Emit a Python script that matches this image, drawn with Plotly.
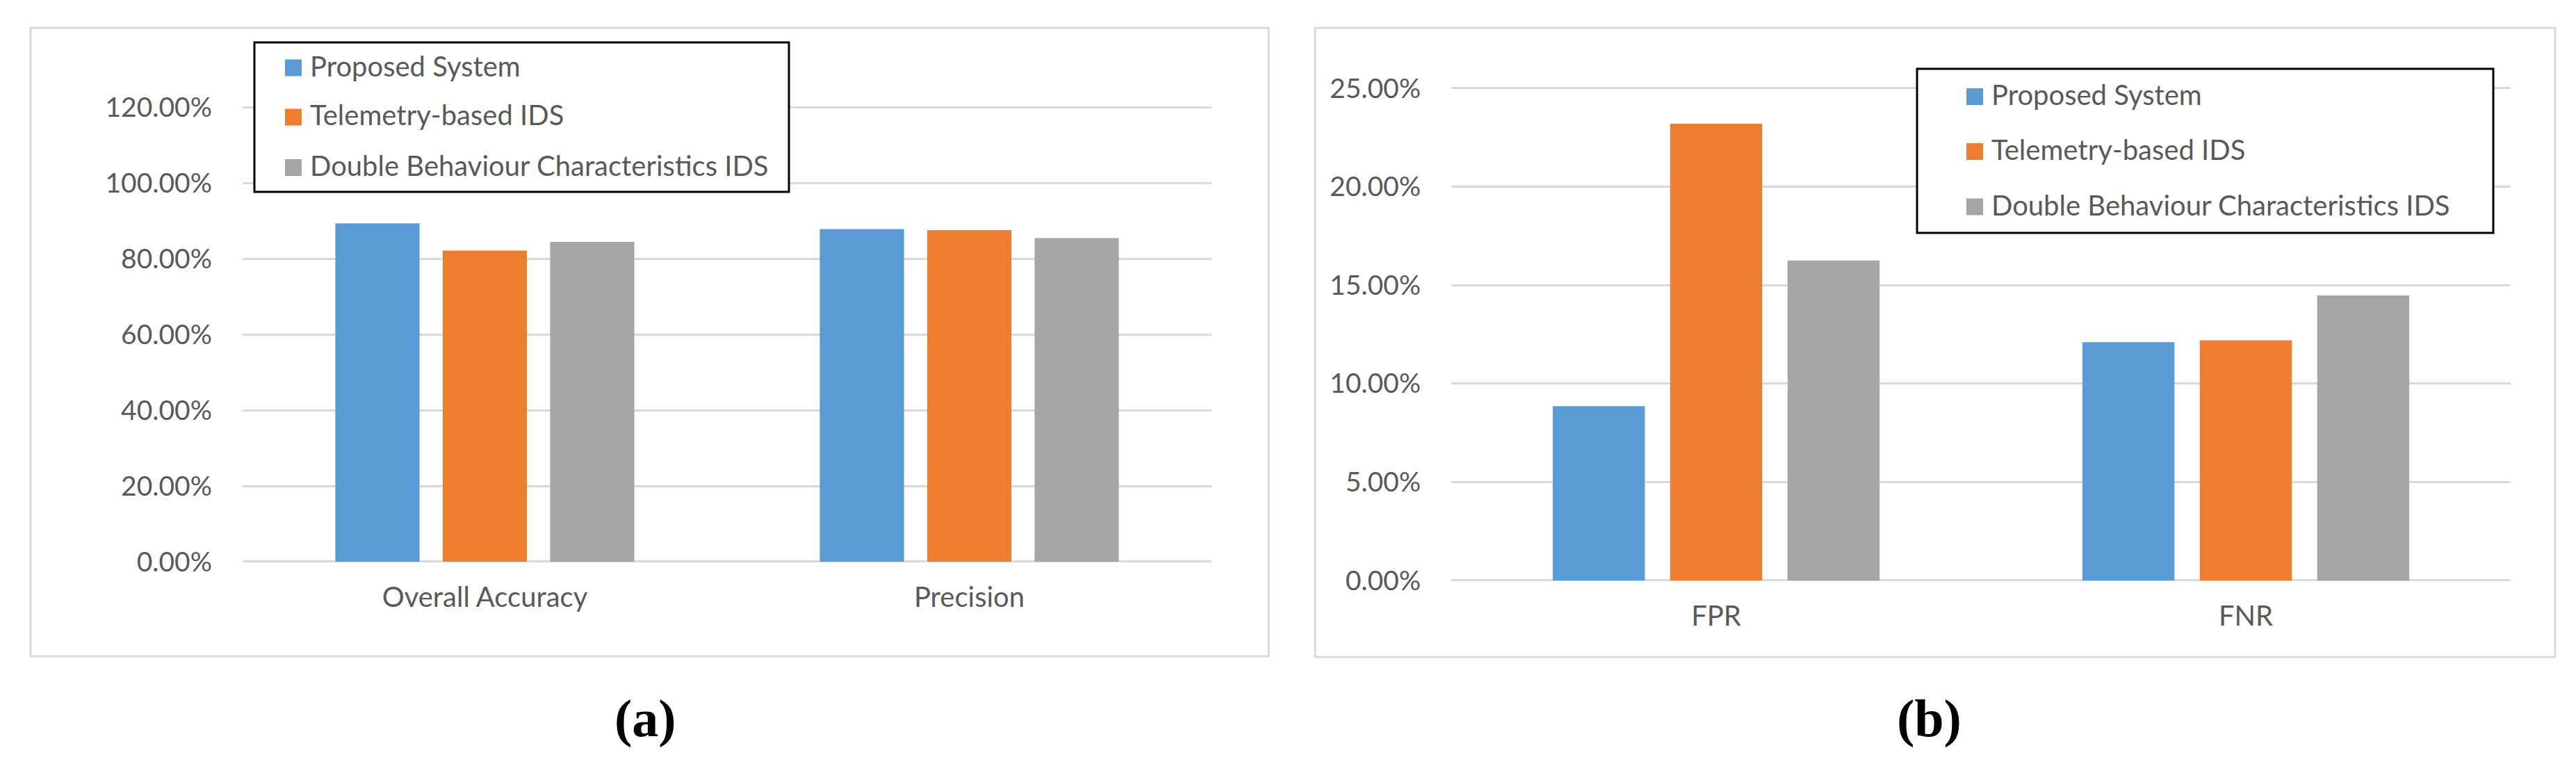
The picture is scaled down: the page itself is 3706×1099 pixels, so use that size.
import plotly.graph_objects as go

# ---------------- data ----------------
series_names = ["Proposed System", "Telemetry-based IDS", "Double Behaviour Characteristics IDS"]
series_colors = ["#5B9BD5", "#ED7D31", "#A5A5A5"]

cats_a = ["Overall Accuracy", "Precision"]
proposed_a = [89.4, 87.9]
telemetry_a = [82.2, 87.6]
double_a = [84.5, 85.5]

cats_b = ["FPR", "FNR"]
proposed_b = [8.85, 12.1]
telemetry_b = [23.2, 12.2]
double_b = [16.25, 14.48]

captions = ["(a)", "(b)"]

W, H = 3706, 1099
def px(x): return x / W
def py(y): return 1 - y / H

FONT = "Lato"
TXT = "#595959"
GRID = "#D9D9D9"

fig = go.Figure()
vals_a = [proposed_a, telemetry_a, double_a]
vals_b = [proposed_b, telemetry_b, double_b]
for name, col, va, vb in zip(series_names, series_colors, vals_a, vals_b):
    fig.add_trace(go.Bar(x=cats_a, y=va, name=name, marker=dict(color=col, line=dict(width=0)),
                         xaxis="x", yaxis="y", showlegend=False))
    fig.add_trace(go.Bar(x=cats_b, y=vb, name=name, marker=dict(color=col, line=dict(width=0)),
                         xaxis="x2", yaxis="y2", showlegend=False))

tickfont = dict(family=FONT, size=39, color=TXT)

def yax(rng, dtick, dom, anchor):
    return dict(domain=dom, range=rng, dtick=dtick, tick0=0, tickformat=".2f", ticksuffix="%",
                showgrid=True, gridcolor=GRID, gridwidth=3, zeroline=True, zerolinecolor=GRID,
                zerolinewidth=3, showline=False, ticks="", ticklabelstandoff=43, tickfont=tickfont,
                anchor=anchor, fixedrange=True, automargin=False)

def xax(dom, anchor):
    return dict(domain=dom, showgrid=False, zeroline=False, showline=False, ticks="",
                tickfont=dict(family=FONT, size=40, color=TXT), ticklabelstandoff=24,
                anchor=anchor, fixedrange=True, automargin=False)

shapes = []
annotations = []

# panel borders
for (x0, y0, x1, y1) in [(36, 32, 1817, 936), (1884, 32, 3668, 937)]:
    shapes.append(dict(type="rect", xref="paper", yref="paper", x0=px(x0), x1=px(x1), y0=py(y1), y1=py(y0),
                       line=dict(color=GRID, width=3), fillcolor="rgba(0,0,0,0)", layer="below"))

# legends (boxes, swatches, labels)
legend_specs = [
    dict(box=(358, 53, 1127, 268), sq_x=402, txt_x=436, ys=[89.5, 160.5, 233]),
    dict(box=(2750, 91, 3579, 327), sq_x=2821, txt_x=2855, ys=[131, 210, 289.5]),
]
for spec in legend_specs:
    x0, y0, x1, y1 = spec["box"]
    shapes.append(dict(type="rect", xref="paper", yref="paper", x0=px(x0), x1=px(x1), y0=py(y1), y1=py(y0),
                       line=dict(color="black", width=3), fillcolor="white", layer="above"))
    for name, col, yc in zip(series_names, series_colors, spec["ys"]):
        shapes.append(dict(type="rect", xref="paper", yref="paper",
                           x0=px(spec["sq_x"]), x1=px(spec["sq_x"] + 24),
                           y0=py(yc + 12), y1=py(yc - 12), line=dict(width=0), fillcolor=col, layer="above"))
        annotations.append(dict(text=name, xref="paper", yref="paper", x=px(spec["txt_x"]), y=py(yc - 3),
                                xanchor="left", yanchor="middle", showarrow=False,
                                font=dict(family=FONT, size=40, color=TXT)))

for cap, xc in zip(captions, [920, 2767]):
    annotations.append(dict(text="<b>" + cap + "</b>", xref="paper", yref="paper", x=px(xc), y=py(1025),
                            xanchor="center", yanchor="middle", showarrow=False,
                            font=dict(family="Liberation Serif", size=76, color="black")))

fig.update_layout(
    width=W, height=H, autosize=False,
    margin=dict(l=0, r=0, t=0, b=0, pad=0),
    paper_bgcolor="white", plot_bgcolor="white",
    barmode="group", bargap=0.335, bargroupgap=0.216,
    showlegend=False,
    xaxis=xax([px(341), px(1735)], "y"),
    yaxis=yax([0, 121], 20, [py(800), py(800 - 121 * 5.445)], "x"),
    xaxis2=xax([px(2080), px(3604)], "y2"),
    yaxis2=yax([0, 25.2], 5, [py(827), py(827 - 25.2 * 28.32)], "x2"),
    shapes=shapes, annotations=annotations,
)

fig.write_html("out.html")
